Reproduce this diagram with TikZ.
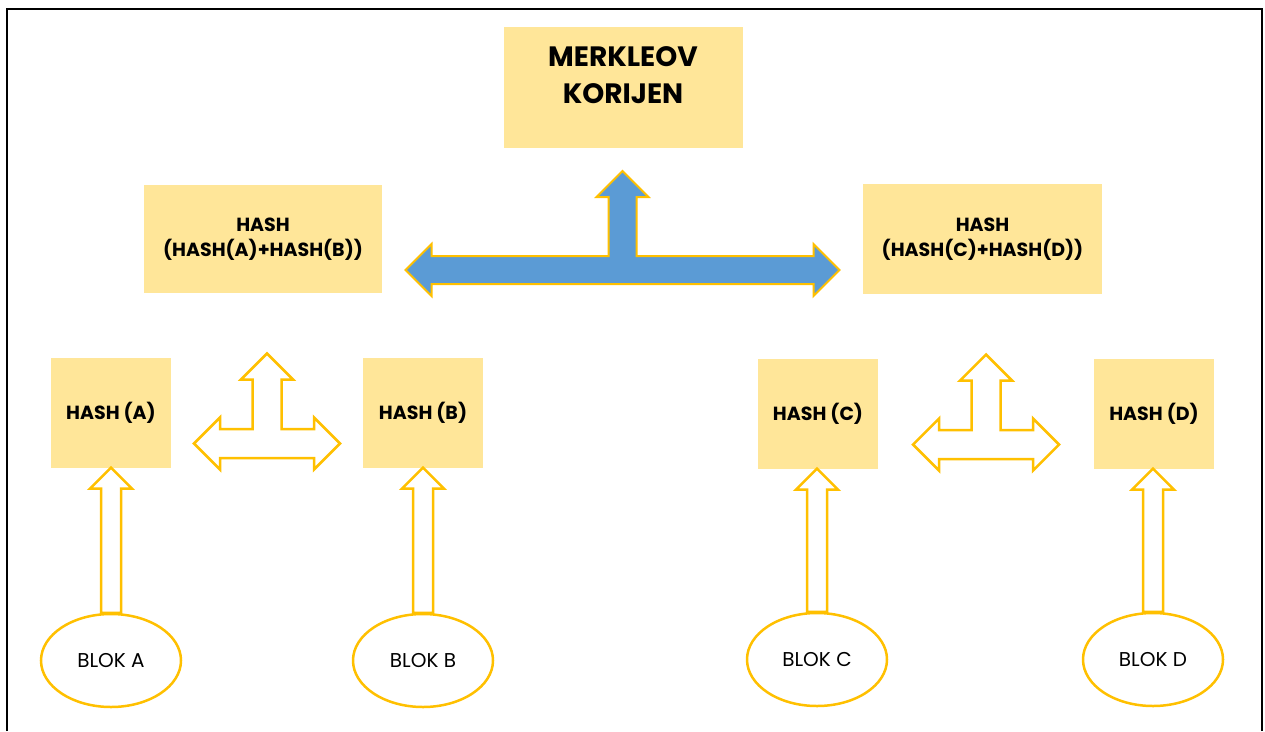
\documentclass[tikz,border=0pt]{standalone}
\usepackage{fontspec}
\setmainfont{Poppins}
\usetikzlibrary{calc,shapes.geometric}
\definecolor{gold}{HTML}{FFC000}
\definecolor{paleGold}{HTML}{FFE699}
\definecolor{steelBlue}{HTML}{5B9BD5}
\tikzset{
	hashbox/.style={fill=paleGold, inner sep=0pt, font=\bfseries\fontsize{19}{25}\selectfont, align=center},
	blok/.style={ellipse, draw=gold, line width=2.5pt, fill=white, minimum width=140, minimum height=93, inner sep=0pt, font=\fontsize{20}{22}\selectfont},
	hollow/.style={draw=gold, line width=2.5pt, fill=white},
	bigarrow/.style={draw=gold, line width=2pt, fill=steelBlue}
}
% T-shaped arrow: centre, half span, height of the up tip, half shaft
\def\tarrow[#1](#2)(#3:#4:#5){\draw[#1,shift={(#2)}] (-#3,0) -- (-#3+26,-26) -- (-#3+26,-#5) -- (-#5,-#5) -- (-#5,-#4+26) -- (-26,-#4+26) -- (0,-#4) -- (26,-#4+26) -- (#5,-#4+26) -- (#5,-#5) -- (#3-26,-#5) -- (#3-26,-26) -- (#3,0) -- (#3-26,26) -- (#3-26,#5) -- (-#3+26,#5) -- (-#3+26,26) -- cycle;}
% hollow up arrow from a block to its hash
\def\liftarrow(#1)(#2){\draw[hollow] let \p1=(#1.north), \p2=(#2.south) in (\x1-10pt,\y1) -- (\x1-10pt,\y2-21pt) -- (\x1-21pt,\y2-21pt) -- (\x1,\y2) -- (\x1+21pt,\y2-21pt) -- (\x1+10pt,\y2-21pt) -- (\x1+10pt,\y1) -- cycle;}

\begin{document}
\begin{tikzpicture}[x=1pt, y=-1pt]
		%%%%% START %%%%%
		\useasboundingbox[fill=white] (0, 0) rectangle (1265, 731);
		\draw[line width=2pt] (7, 731) -- (7, 9) -- (1262, 9) -- (1262, 731);
		
		% root
		\node[hashbox, minimum width=239, minimum height=121] (root) at (623.5, 87.5) {};
		\node[font=\bfseries\fontsize{28}{37}\selectfont, align=center] (rootText) at (623, 75) {MERKLEOV\\KORIJEN};
		
		% second level
		\node[hashbox, minimum width=238, minimum height=108] (hashAB) at (263, 239) {HASH\\(HASH(A)+HASH(B))};
		\node[hashbox, minimum width=239, minimum height=110] (hashCD) at (982.5, 239) {HASH\\(HASH(C)+HASH(D))};
		
		% leaves
		\node[hashbox, minimum width=120, minimum height=110] (hashA) at (111, 412.5) {HASH (A)};
		\node[hashbox, minimum width=120, minimum height=110] (hashB) at (423, 412.5) {HASH (B)};
		\node[hashbox, minimum width=120, minimum height=110] (hashC) at (818, 413.5) {HASH (C)};
		\node[hashbox, minimum width=120, minimum height=110] (hashD) at (1154, 413.5) {HASH (D)};
		
		\node[blok] (blokA) at (111, 660.5) {BLOK A};
		\node[blok] (blokB) at (423, 660.5) {BLOK B};
		\node[blok] (blokC) at (817, 659.5) {BLOK C};
		\node[blok] (blokD) at (1153, 659.5) {BLOK D};
		
		\liftarrow(blokA)(hashA)
		\liftarrow(blokB)(hashB)
		\liftarrow(blokC)(hashC)
		\liftarrow(blokD)(hashD)
		
		% joins
		\coordinate (joinAB) at ($(hashA.east)!0.5!(hashB.west)+(0,31)$);
		\coordinate (joinCD) at ($(hashC.east)!0.5!(hashD.west)+(0,31)$);
		\coordinate (joinRoot) at ($(hashAB.east)!0.5!(hashCD.west)+(0,31)$);
		
		\tarrow[hollow](joinAB)(73:90:14.5)
		\tarrow[hollow](joinCD)(73:90:14.5)
		\tarrow[bigarrow](joinRoot)(217:99:14)
		
		%%%%% END %%%%%
	\end{tikzpicture}
\end{document}
